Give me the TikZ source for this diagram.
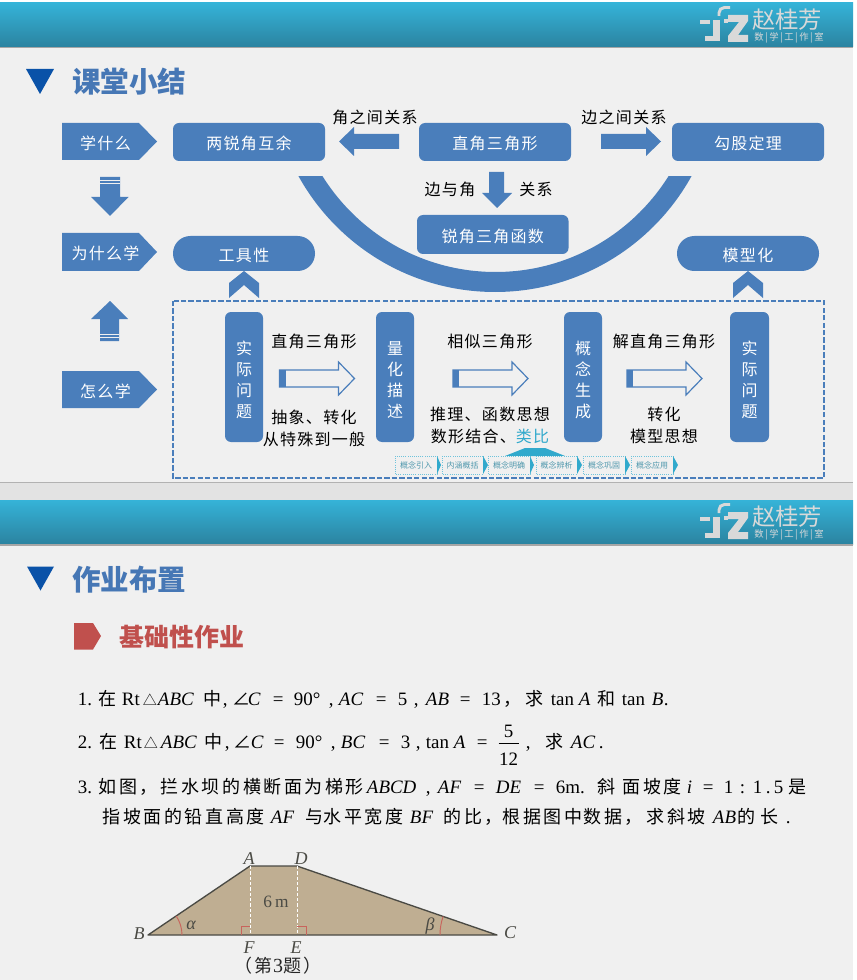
\documentclass[tikz,border=0pt]{standalone}
\usepackage{fontspec}
\setmainfont{Liberation Serif}
\newfontfamily\cjk{Noto Sans CJK SC}
\newfontfamily\cjkw[LetterSpace=8]{Noto Sans CJK SC}
\newfontfamily\cjkm[LetterSpace=14]{Noto Sans CJK SC}
\definecolor{bluebox}{HTML}{4A7EBB}
\definecolor{titleblue}{HTML}{4677B5}
\definecolor{tridark}{HTML}{0A52A8}
\definecolor{teal1}{HTML}{31A9CC}
\definecolor{redb}{HTML}{C0504D}
\definecolor{slidebg}{HTML}{F0F0F0}
\definecolor{gapbg}{HTML}{E3E3E3}
\definecolor{hdtop}{HTML}{35B3D8}
\definecolor{hdbot}{HTML}{2B83A0}
\definecolor{logog}{HTML}{D9D9D9}
\definecolor{dam}{HTML}{BFAE92}
\definecolor{damred}{HTML}{C8645C}
\definecolor{damline}{HTML}{4A4A44}
\newcommand\lbl[1]{{\fontsize{12}{15.75}\selectfont\cjkw #1}}
\newcommand\cz[1]{{\fontsize{13.5}{16}\selectfont\cjkm #1}}
\newcommand\ci[1]{\textit{#1}}
\newcommand\pp[2]{\rlap{\kern\dimexpr(#1pt-77pt)*3/4\relax #2}}
\newcommand\tri{{\fontsize{10.5}{12}\selectfont\cjk △}}
\newcommand\hdr[2]{%
  \shade[top color=hdtop,bottom color=hdbot] (0,#1) rectangle (853,#2);
  \fill[black!35] (0,#2) rectangle (853,#2+1.5);
}
\newcommand\logo[1]{%
  \begin{scope}[shift={(0,#1)}]
    \fill[logog] (728,15) -- (748,15) -- (748,21) -- (738,35) -- (748,35) -- (748,42) -- (728,42) -- (728,36) -- (739,22) -- (728,22) -- cycle;
    \fill[logog] (700,20) rectangle (710,24);
    \fill[logog] (724,19) rectangle (728,23);
    \fill[logog] (713,20) rectangle (720,41);
    \fill[logog] (705,36) rectangle (713,41);
    \draw[logog,line width=2.2pt,rounded corners=4pt] (730,7.5) -- (719,7.5) -- (719,16);
    \node[text=logog,anchor=center,font=\fontsize{17.5}{18}\selectfont\cjk] at (787,19.5) {赵桂芳};
    \node[text=logog,anchor=center,font=\fontsize{7}{8}\selectfont\cjk] at (789,37.5) {数\,|\,学\,|\,工\,|\,作\,|\,室};
  \end{scope}
}
\tikzset{
  rbox/.style={fill=bluebox,rounded corners=4.5pt},
  pillbox/.style={fill=bluebox,rounded corners=13pt},
  blk/.style={text=black,inner sep=0pt},
  wtx/.style={text=white,inner sep=0pt,yshift=-1.2pt},
  hollow/.style={draw=bluebox,fill=slidebg,line width=.9pt},
  tinybox/.style={draw=teal1!70,densely dotted,line width=.6pt,fill=slidebg},
  tinytxt/.style={text=teal1!60!gray,inner sep=0pt,font=\fontsize{6}{6}\selectfont\cjk},
  bodyline/.style={anchor=base west,inner sep=0pt,font=\fontsize{14.2}{16}\selectfont},
  title/.style={text=titleblue,inner sep=0pt,anchor=west,font=\fontsize{21.4}{21.4}\selectfont\bfseries\cjk},
  damlab/.style={inner sep=0pt,text=damline,font=\fontsize{13.5}{14}\selectfont\itshape},
}
\newcommand\penta[4]{% name, y1, y2, text
  \fill[bluebox] (62,#2) -- (139,#2) -- (157,{(#2+#3)/2}) -- (139,#3) -- (62,#3) -- cycle;
  \node[wtx] (#1) at (105.5,{(#2+#3)/2}) {\lbl{#4}};
}
\newcommand\vcol[7]{% name x1 x2 t1 t2 t3 t4
  \path[rbox] (#2,312) rectangle (#3,442);
  \node[wtx,align=center,font=\fontsize{12}{15.75}\selectfont\cjk] (#1) at ({(#2+#3)/2},378) {#4\\#5\\#6\\#7};
}
\newcommand\hollowarrow[1]{% x start
  \begin{scope}[shift={(#1,0)}]
    \path[hollow] (0,370) -- (59,370) -- (59,362) -- (75,378.5) -- (59,395) -- (59,387) -- (0,387) -- cycle;
    \fill[bluebox] (0,370) rectangle (6,387);
  \end{scope}
}
\begin{document}
\begin{tikzpicture}[x=0.75pt,y=-0.75pt]
\useasboundingbox (0,0) rectangle (856,980);
\fill[white] (0,0) rectangle (856,980);
\fill[gapbg] (0,482) rectangle (853,500);
\fill[slidebg] (0,3) rectangle (853,482);
\fill[slidebg] (0,500) rectangle (853,980);
\fill[black!30] (0,481.5) rectangle (853,483);
\hdr{3}{47}
\hdr{500}{544}
\logo{0}
\logo{497}

% titles
\fill[tridark] (26,69) -- (54,69) -- (40,94) -- cycle;
\node[title] (t1) at (72,82) {课堂小结};
\fill[tridark] (27,566.5) -- (54,566.5) -- (40.5,590.5) -- cycle;
\node[title] (t2) at (72,580) {作业布置};

% crescent
\begin{scope}
  \clip (280,177) rectangle (720,300);
  \fill[bluebox,even odd rule] (495,67.5) circle[radius=224.5] (495.5,68) circle[radius=204];
\end{scope}

% top row
\path[rbox] (173,123) rectangle node[wtx] (b1) {\lbl{两锐角互余}} (325,161);
\path[rbox] (419,123) rectangle node[wtx] (b2) {\lbl{直角三角形}} (571,161);
\path[rbox] (672,123) rectangle node[wtx] (b3) {\lbl{勾股定理}} (824,161);
\path[rbox] (417,215) rectangle node[wtx] (b4) {\lbl{锐角三角函数}} (568.5,254);
\path[pillbox] (173,236) rectangle node[wtx] (p1) {\lbl{工具性}} (315,271);
\path[pillbox] (677,236) rectangle node[wtx] (p2) {\lbl{模型化}} (819,271);

% block arrows
\fill[bluebox] (399,134) -- (354,134) -- (354,127) -- (339,141.5) -- (354,156) -- (354,149) -- (399,149) -- cycle;
\fill[bluebox] (601,134) -- (646,134) -- (646,127) -- (661,141.5) -- (646,156) -- (646,149) -- (601,149) -- cycle;
\fill[bluebox] (489,172) -- (504,172) -- (504,193) -- (512,193) -- (497,208) -- (482,193) -- (489,193) -- cycle;
\node[blk] (l1) at (375,117) {\lbl{角之间关系}};
\node[blk] (l2) at (624,117) {\lbl{边之间关系}};
\node[blk] (l3) at (450,189) {\lbl{边与角}};
\node[blk] (l4) at (536,189) {\lbl{关系}};

% left column
\penta{q1}{123}{160}{学什么}
\penta{q2}{233}{271}{为什么学}
\penta{q3}{371}{408}{怎么学}
\fill[bluebox] (100,177) -- (120,177) -- (120,197) -- (128.5,197) -- (110,216) -- (91,197) -- (100,197) -- cycle;
\draw[slidebg,line width=.6pt] (100,180.5) -- (120,180.5) (100,183.5) -- (120,183.5);
\fill[bluebox] (100,341) -- (119,341) -- (119,319) -- (128,319) -- (110,301) -- (91,319) -- (100,319) -- cycle;
\draw[slidebg,line width=.6pt] (100,337.5) -- (119,337.5) (100,334.5) -- (119,334.5);

% chevrons
\foreach \cx in {244,748}{
  \fill[bluebox] (\cx,271) -- (\cx+15,283) -- (\cx+15,298) -- (\cx,285) -- (\cx-15,298) -- (\cx-15,283) -- cycle;
}

% dashed frame
\draw[bluebox,line width=.9pt,dash pattern=on 4pt off 1.6pt] (173,301) rectangle (824,478);

% process columns
\vcol{v1}{225}{263}{实}{际}{问}{题}
\vcol{v2}{376}{414}{量}{化}{描}{述}
\vcol{v3}{564}{602}{概}{念}{生}{成}
\vcol{v4}{730}{769}{实}{际}{问}{题}
\hollowarrow{279.5}
\hollowarrow{453}
\hollowarrow{627}
\node[blk] (m1) at (314,341) {\lbl{直角三角形}};
\node[blk] (m2) at (490,341) {\lbl{相似三角形}};
\node[blk] (m3) at (664,341) {\lbl{解直角三角形}};
\node[blk] (m4) at (314,417) {\lbl{抽象、转化}};
\node[blk] (m5) at (314,439) {\lbl{从特殊到一般}};
\node[blk] (m6) at (490,414) {\lbl{推理、函数思想}};
\node[blk] (m7) at (490,436) {\lbl{数形结合、\textcolor{teal1}{类比}}};
\node[blk] (m8) at (664,414) {\lbl{转化}};
\node[blk] (m9) at (664,436) {\lbl{模型思想}};

% tiny strip
\fill[teal1] (505,456) -- (525,448) -- (545,448) -- (565,456) -- cycle;
\path[tinybox] (395,456) rectangle (437,474);
\fill[teal1] (437,456) -- (441,465) -- (437,474) -- cycle;
\node[tinytxt] (s1) at (416,465) {概念引入};
\path[tinybox] (442,456) rectangle (483,474);
\fill[teal1] (483,456) -- (488,465) -- (483,474) -- cycle;
\node[tinytxt] (s2) at (462.5,465) {内涵概括};
\path[tinybox] (488,456) rectangle (530,474);
\fill[teal1] (530,456) -- (534,465) -- (530,474) -- cycle;
\node[tinytxt] (s3) at (509,465) {概念明确};
\path[tinybox] (536,456) rectangle (577,474);
\fill[teal1] (577,456) -- (582,465) -- (577,474) -- cycle;
\node[tinytxt] (s4) at (556.5,465) {概念辨析};
\path[tinybox] (583,456) rectangle (625,474);
\fill[teal1] (625,456) -- (630,465) -- (625,474) -- cycle;
\node[tinytxt] (s5) at (604,465) {概念巩固};
\path[tinybox] (631,456) rectangle (673,474);
\fill[teal1] (673,456) -- (678,465) -- (673,474) -- cycle;
\node[tinytxt] (s6) at (652,465) {概念应用};

% second slide
\fill[redb] (74,623) -- (93,623) -- (101,636) -- (93,649.5) -- (74,649.5) -- cycle;
\node[text=redb,inner sep=0pt,anchor=west,font=\fontsize{18.7}{18.7}\selectfont\bfseries\cjk] (t3) at (119,637) {基础性作业};

\node[bodyline] (e1) at (77,705) {\pp{77}{1.}\pp{98}{\cz{在}}\pp{121}{Rt}\pp{142}{\tri}\pp{157}{\ci{ABC}}\pp{203}{\cz{中}}\pp{222}{,}\pp{232}{\cz{∠}}\pp{247}{\ci{C}}\pp{272}{=}\pp{293}{90°}\pp{328}{,}\pp{338}{\ci{AC}}\pp{375}{=}\pp{397}{5}\pp{413}{,}\pp{425}{\ci{AB}}\pp{459}{=}\pp{481}{13}\pp{503}{\cz{，}}\pp{525}{\cz{求}}\pp{550}{tan}\pp{578}{\ci{A}}\pp{597}{\cz{和}}\pp{621}{tan}\pp{651}{\ci{B}}\pp{663}{.}};
\node[bodyline] (e2) at (77,748) {\pp{77}{2.}\pp{99}{\cz{在}}\pp{123}{Rt}\pp{143}{\tri}\pp{160}{\ci{ABC}}\pp{204}{\cz{中}}\pp{224}{,}\pp{233}{\cz{∠}}\pp{250}{\ci{C}}\pp{273}{=}\pp{295}{90°}\pp{330}{,}\pp{340}{\ci{BC}}\pp{378}{=}\pp{400}{3}\pp{415}{,}\pp{425}{tan}\pp{453}{\ci{A}}\pp{476}{=}\pp{525}{,}\pp{545}{\cz{求}}\pp{570}{\ci{AC}}\pp{598}{.}};
\node[bodyline,anchor=base] (f1) at (508.5,737) {5};
\coordinate (fa) at (498.5,743);
\coordinate (fb) at (519,743);
\draw[black,line width=.6pt] (fa) -- (fb);
\node[bodyline,anchor=base] (f2) at (508.5,765) {12};
\node[bodyline] (e3) at (77,793) {\pp{77}{3.}\pp{98}{\cz{如图，}}\pp{160}{\cz{拦水坝的横断面为梯形}}\pp{366}{\ci{ABCD}}\pp{425}{,}\pp{437}{\ci{AF}}\pp{473}{=}\pp{495}{\ci{DE}}\pp{533}{=}\pp{555}{6m.}\pp{597}{\cz{斜}}\pp{622}{\cz{面坡度}}\pp{686}{\ci{i}}\pp{702}{=}\pp{723}{1}\pp{739}{:}\pp{752}{1}\pp{765}{.}\pp{773}{5}\pp{788}{\cz{是}}};
\node[bodyline] (e4) at (77,823) {\pp{102}{\cz{指坡面的铅直高度}}\pp{270}{\ci{AF}}\pp{305}{\cz{与}}\pp{323}{\cz{水平宽度}}\pp{409}{\ci{BF}}\pp{443}{\cz{的比，}}\pp{502}{\cz{根据图中}}\pp{583}{\cz{数据，}}\pp{646}{\cz{求斜坡}}\pp{712}{\ci{AB}}\pp{737}{\cz{的}}\pp{760}{\cz{长}}\pp{785}{.}};

% dam
\fill[dam] (148,935) -- (250,866) -- (297,866) -- (497,935) -- cycle;
\draw[damline,line width=1pt,line join=round] (148,935) -- (250,866) -- (297,866) -- (497,935) -- cycle;
\draw[white,line width=.6pt,dash pattern=on 2.5pt off 1.5pt] (250,866) -- (250,935) (297,866) -- (297,935);
\draw[damred,line width=.7pt] (241,935) -- (241,926) -- (250,926);
\draw[damred,line width=.7pt] (297,926) -- (306,926) -- (306,935);
\draw[damred,line width=.7pt] (182,935) arc[start angle=0,end angle=-34,radius=34];
\draw[damred,line width=.7pt] (440,935) arc[start angle=180,end angle=199,radius=57];
\foreach \nm/\tx/\px/\py in {na/A/249/859,nd/D/301/859,nb/B/139/934,nc/C/510/933,nf/F/249/948,ne/E/296/948,nal/α/191/925,nbe/β/430/926}{
  \node[damlab] (\nm) at (\px,\py) {\tx};
}
\node[inner sep=0pt,text=damline,font=\fontsize{13}{14}\selectfont] (six) at (276,902) {6\,m};
\node[inner sep=0pt,text=black!85,font=\fontsize{13.5}{14}\selectfont\cjkm] (cap) at (278,966) {（第{\fontsize{15}{14}\selectfont\rmfamily 3}题）};
\end{tikzpicture}
\end{document}
